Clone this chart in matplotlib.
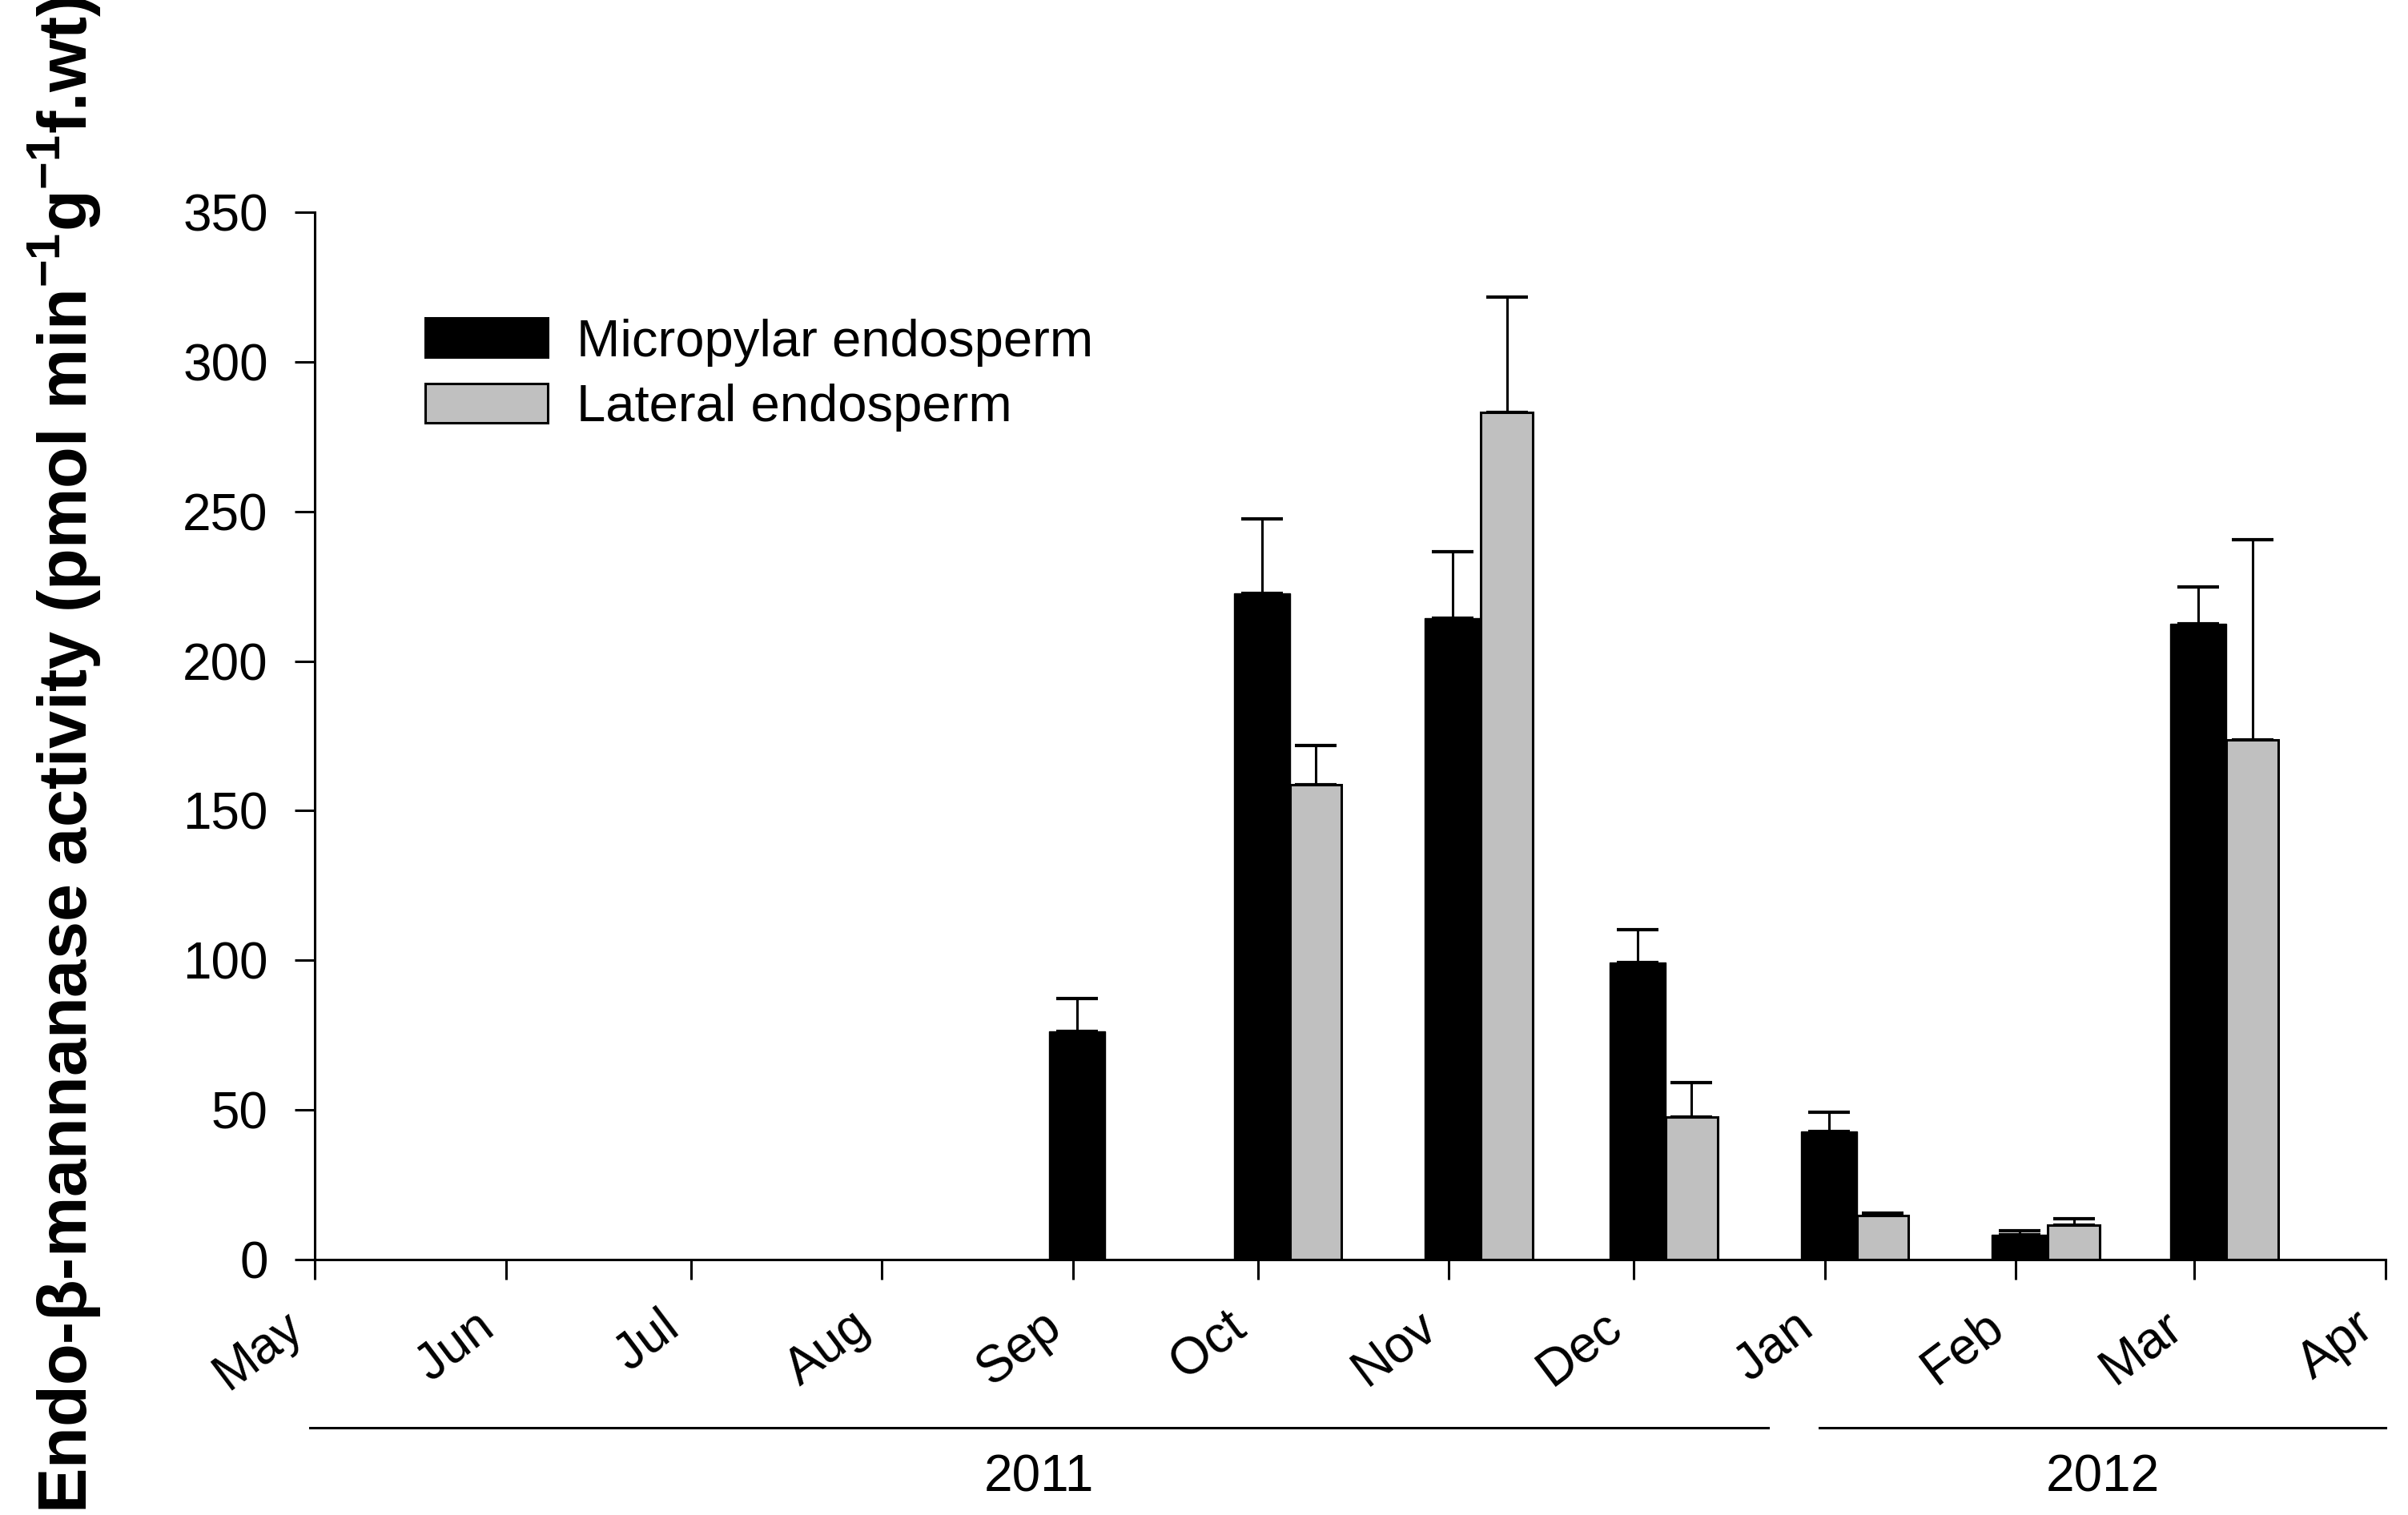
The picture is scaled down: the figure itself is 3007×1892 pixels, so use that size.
import numpy as np
import matplotlib
matplotlib.use("Agg")
import matplotlib.pyplot as plt
import matplotlib.transforms as mtransforms
from matplotlib.patches import Patch

plt.rcParams["font.family"] = ["Liberation Sans", "DejaVu Sans"]
plt.rcParams["mathtext.fontset"] = "custom"
plt.rcParams["mathtext.rm"] = "Liberation Sans"
plt.rcParams["mathtext.bf"] = "Liberation Sans:bold"

# x axis: month starts, May 2011 .. Apr 2012
MONTHS = ["May", "Jun", "Jul", "Aug", "Sep", "Oct", "Nov", "Dec",
          "Jan", "Feb", "Mar", "Apr"]
MONTH_STARTS = np.array(["2011-05-01", "2011-06-01", "2011-07-01", "2011-08-01",
                         "2011-09-01", "2011-10-01", "2011-11-01", "2011-12-01",
                         "2012-01-01", "2012-02-01", "2012-03-01", "2012-04-01"],
                        dtype="datetime64[D]")

# sampled months (Sep 2011 .. Mar 2012)
SAMPLE_MONTHS = np.array(["2011-09-01", "2011-10-01", "2011-11-01", "2011-12-01",
                          "2012-01-01", "2012-02-01", "2012-03-01"],
                         dtype="datetime64[D]")
micropylar = [76.3, 222.5, 214.3, 99.4, 42.8, 8.3, 212.5]
micropylar_se = [11.0, 25.0, 22.2, 10.9, 6.4, 1.4, 12.3]
lateral = [np.nan, 158.7, 283.0, 47.6, 14.7, 11.5, 173.7]
lateral_se = [np.nan, 13.1, 38.6, 11.5, 0.8, 2.2, 66.9]

YEARS = ["2011", "2012"]

origin = MONTH_STARTS[0]
tick_x = (MONTH_STARTS - origin).astype(float)
sx = (SAMPLE_MONTHS - origin).astype(float)

fig = plt.figure(figsize=(30.07, 18.92), dpi=100)
ax = fig.add_axes([0.1307, 0.1686, 0.8600, 0.6914])

LW = 2.2
W_BLACK, W_GRAY = 9.1, 8.4
b_left = sx - 3.9
g_left = b_left + W_BLACK

ax.bar(b_left, micropylar, width=W_BLACK, align="edge", color="black",
       edgecolor="black", linewidth=1.0, zorder=2)
ax.bar(g_left, lateral, width=W_GRAY, align="edge", color="#c0c0c0",
       edgecolor="black", linewidth=LW, zorder=2)

ekw = dict(fmt="none", ecolor="black", elinewidth=LW, capsize=18.5,
           capthick=3.0, zorder=1)
ax.errorbar(b_left + W_BLACK / 2, micropylar,
            yerr=[np.zeros(len(micropylar)), micropylar_se], **ekw)
ax.errorbar(g_left + W_GRAY / 2, lateral,
            yerr=[np.zeros(len(lateral)), lateral_se], **ekw)

ax.set_xlim(tick_x[0], tick_x[-1])
ax.set_ylim(0, 350)
ax.set_yticks(np.arange(0, 351, 50))
ax.set_xticks(tick_x)
ax.set_xticklabels([])
for s in ("top", "right"):
    ax.spines[s].set_visible(False)
for s in ("left", "bottom"):
    ax.spines[s].set_linewidth(LW)
ax.tick_params(axis="both", direction="out", length=18, width=LW,
               labelsize=46, colors="black")
ax.tick_params(axis="y", pad=24)

tr = ax.get_xaxis_transform()
# rotated month labels, right end just left of each tick
lab_tr = tr + mtransforms.ScaledTranslation(-0.4, -0.53, fig.dpi_scale_trans)
for x, m in zip(tick_x, MONTHS):
    ax.text(x, 0, m, transform=lab_tr, rotation=37, ha="right", va="top",
            rotation_mode="anchor", fontsize=46, clip_on=False)

# year brackets under the month labels
jan = tick_x[MONTHS.index("Jan")]
spans = [(tick_x[0] - 0.8, jan - 9.2), (jan - 0.8, tick_x[-1])]
for (x0, x1), yr in zip(spans, YEARS):
    ax.plot([x0, x1], [-0.1606, -0.1606], color="black", lw=LW,
            transform=tr, clip_on=False)
    ax.text((x0 + x1) / 2, -0.208, yr, transform=tr, ha="center",
            va="center", fontsize=46)

fig.text(0.027, 0.502,
         r"Endo-β-mannanase activity (pmol min$^{\mathbf{-1}}$g$^{\mathbf{-1}}$f.wt)",
         rotation=90, ha="center", va="center", fontsize=61, fontweight="bold")

handles = [Patch(facecolor="black", edgecolor="black", linewidth=LW,
                 label="Micropylar endosperm"),
           Patch(facecolor="#c0c0c0", edgecolor="black", linewidth=LW,
                 label="Lateral endosperm")]
ax.legend(handles=handles, loc="upper left", bbox_to_anchor=(0.1766, 0.79),
          bbox_transform=fig.transFigure, frameon=False, fontsize=47,
          borderpad=0, borderaxespad=0, handlelength=2.35, handleheight=0.78,
          handletextpad=0.55, labelspacing=0.33)

fig.savefig("out.png", dpi=100)
